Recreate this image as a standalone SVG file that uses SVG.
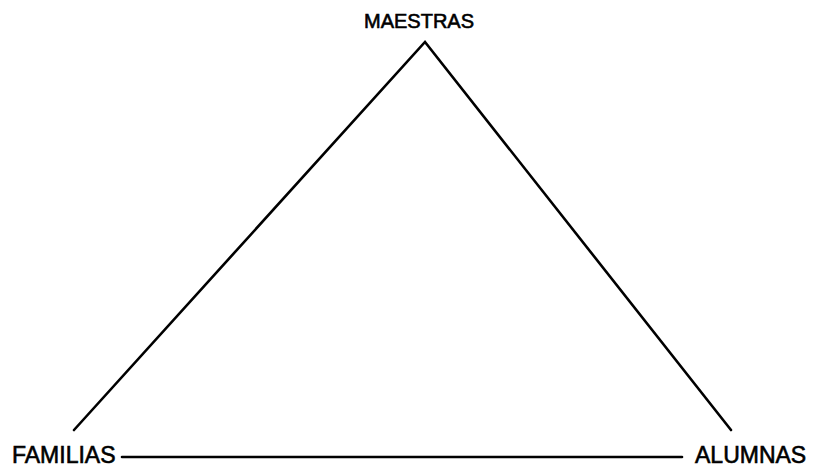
<svg xmlns="http://www.w3.org/2000/svg" width="814" height="472" viewBox="0 0 814 472">
<style>
.lbl{font-family:"Liberation Sans",Arial,sans-serif;fill:#000;stroke:#000;stroke-width:0.6}
.ln{stroke:#000;stroke-width:2.6;fill:none;stroke-linecap:round;stroke-linejoin:miter}
</style>
<rect width="814" height="472" fill="#fff"/>
<g id="connectors">
<polyline class="ln" points="74,430 425,42 731,430"/>
<line class="ln" x1="122" y1="457" x2="682" y2="457"/>
</g>
<g id="maestras"><text class="lbl" x="419" y="28" font-size="20" text-anchor="middle">MAESTRAS</text></g>
<g id="familias"><text class="lbl" x="12" y="463" font-size="23">FAMILIAS</text></g>
<g id="alumnas"><text class="lbl" x="695" y="463" font-size="23">ALUMNAS</text></g>
</svg>
